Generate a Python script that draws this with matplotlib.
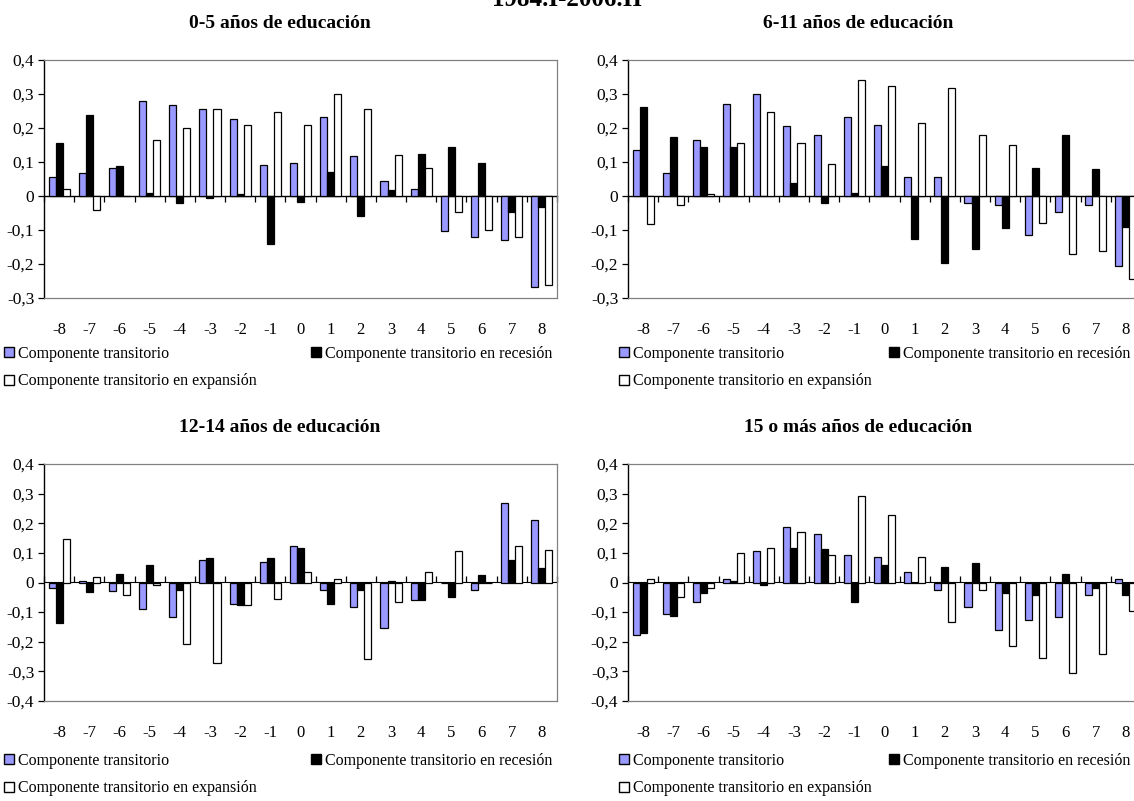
import numpy as np
import matplotlib
matplotlib.use("Agg")
import matplotlib.pyplot as plt
from matplotlib.patches import Patch
from matplotlib.ticker import FuncFormatter

plt.rcParams["font.family"] = ["Liberation Serif", "DejaVu Serif"]

# Quarters relative to the cycle turning point
lags = [-8, -7, -6, -5, -4, -3, -2, -1, 0, 1, 2, 3, 4, 5, 6, 7, 8]

# 0-5 years of schooling
edu0_trans = [0.057, 0.067, 0.081, 0.278, 0.267, 0.257, 0.226, 0.092, 0.097,
              0.231, 0.118, 0.045, 0.020, -0.104, -0.120, -0.130, -0.268]
edu0_rec = [0.155, 0.237, 0.088, 0.010, -0.022, -0.007, 0.005, -0.141, -0.018,
            0.072, -0.059, 0.017, 0.124, 0.145, 0.098, -0.047, -0.032]
edu0_exp = [0.020, -0.042, 0.0, 0.165, 0.200, 0.257, 0.210, 0.247, 0.210,
            0.299, 0.257, 0.122, 0.083, -0.047, -0.099, -0.120, -0.263]

# 6-11 years of schooling
edu6_trans = [0.134, 0.068, 0.165, 0.272, 0.299, 0.206, 0.180, 0.231, 0.210,
              0.057, 0.057, -0.022, -0.026, -0.116, -0.047, -0.026, -0.207]
edu6_rec = [0.262, 0.175, 0.145, 0.145, 0.0, 0.037, -0.022, 0.010, 0.088,
            -0.126, -0.198, -0.157, -0.095, 0.083, 0.180, 0.078, -0.090]
edu6_exp = [-0.083, -0.026, 0.005, 0.155, 0.247, 0.155, 0.093, 0.340, 0.324,
            0.216, 0.319, 0.180, 0.149, -0.078, -0.171, -0.161, -0.243]

# 12-14 years of schooling
edu12_trans = [-0.018, 0.005, -0.030, -0.089, -0.118, 0.076, -0.072, 0.070, 0.124,
               -0.025, -0.083, -0.154, -0.060, 0.0, -0.025, 0.270, 0.211]
edu12_rec = [-0.136, -0.031, 0.030, 0.060, -0.025, 0.083, -0.077, 0.083, 0.118,
             -0.072, -0.025, 0.006, -0.060, -0.048, 0.025, 0.077, 0.048]
edu12_exp = [0.147, 0.018, -0.042, -0.008, -0.207, -0.272, -0.077, -0.055, 0.036,
             0.012, -0.259, -0.065, 0.036, 0.105, 0.0, 0.124, 0.111]

# 15 or more years of schooling
edu15_trans = [-0.177, -0.106, -0.065, 0.011, 0.105, 0.188, 0.164, 0.094, 0.087,
               0.036, -0.025, -0.084, -0.160, -0.125, -0.118, -0.042, 0.011]
edu15_rec = [-0.171, -0.113, -0.037, 0.006, -0.007, 0.118, 0.112, -0.066, 0.059,
             0.0, 0.054, 0.065, -0.037, -0.042, 0.030, -0.019, -0.042]
edu15_exp = [0.011, -0.048, -0.018, 0.100, 0.117, 0.170, 0.094, 0.293, 0.228,
             0.087, -0.135, -0.025, -0.213, -0.254, -0.306, -0.241, -0.095]

titles = ["0-5 años de educación", "6-11 años de educación",
          "12-14 años de educación", "15 o más años de educación"]
series_labels = ["Componente transitorio",
                 "Componente transitorio en recesión",
                 "Componente transitorio en expansión"]
main_title = "1984.I-2006.II"

BLUE = "#9999FF"
GRAY = "#808080"
W, H = 1134, 801

fig = plt.figure(figsize=(W / 100, H / 100), dpi=100)


def px_box(x0, y_top, x1, y_bot):
    return [x0 / W, 1 - y_bot / H, (x1 - x0) / W, (y_bot - y_top) / H]


panels = [
    (edu0_trans, edu0_rec, edu0_exp, px_box(44, 60, 557, 298), (-0.3, 0.4), 280, 23),
    (edu6_trans, edu6_rec, edu6_exp, px_box(628, 60, 1141, 298), (-0.3, 0.4), 858, 23),
    (edu12_trans, edu12_rec, edu12_exp, px_box(44, 464, 557, 701), (-0.4, 0.4), 280, 428),
    (edu15_trans, edu15_rec, edu15_exp, px_box(628, 464, 1141, 701), (-0.4, 0.4), 858, 428),
]

legend_rows = [(4, 346, 311), (619, 346, 889), (4, 753, 311), (619, 753, 889)]

x = np.arange(len(lags))
bw = 0.233

for i, (tr, rec, exp_, box, ylim, tx, ty) in enumerate(panels):
    ax = fig.add_axes(box)
    ax.bar(x - bw, tr, bw, color=BLUE, edgecolor="black", linewidth=0.9, zorder=2)
    ax.bar(x, rec, bw, color="black", edgecolor="black", linewidth=0.9, zorder=2)
    ax.bar(x + bw, exp_, bw, color="white", edgecolor="black", linewidth=0.9, zorder=2)

    ax.set_xlim(-0.5, len(lags) - 0.5)
    ax.set_ylim(*ylim)
    ax.set_yticks(np.round(np.arange(ylim[0], ylim[1] + 0.001, 0.1), 1))
    ax.yaxis.set_major_formatter(
        FuncFormatter(lambda v, _: "0" if abs(v) < 1e-9 else f"{v:.1f}".replace(".", ",")))
    ax.set_xticks(x)
    ax.set_xticklabels([str(v) for v in lags])
    ax.tick_params(axis="x", length=0, pad=17, labelsize=12)
    ax.tick_params(axis="y", direction="out", length=4, width=0.9, pad=3,
                   labelsize=12.5, color="black")

    for side in ("top", "right", "bottom"):
        ax.spines[side].set_color(GRAY)
        ax.spines[side].set_linewidth(0.9)
    ax.spines["left"].set_color("black")
    ax.spines["left"].set_linewidth(1.0)

    # category axis drawn at zero with ticks between the groups
    zero_frac = (0 - ylim[0]) / (ylim[1] - ylim[0])
    sec = ax.secondary_xaxis(zero_frac)
    sec.set_xticks(np.arange(-0.5, len(lags), 1.0))
    sec.tick_params(axis="x", direction="out", length=4, width=0.9,
                    labelbottom=False, labeltop=False, color="black")
    sec.spines["bottom"].set_color("black")
    sec.spines["bottom"].set_linewidth(1.0)

    fig.text(tx / W, 1 - ty / H, titles[i], ha="center", va="center",
             fontsize=14, fontweight="bold")

    lx, ly, lx2 = legend_rows[i]
    handles_left = [Patch(facecolor=BLUE, edgecolor="black", linewidth=1.0),
                    Patch(facecolor="white", edgecolor="black", linewidth=1.0)]
    fig.legend(handles_left, [series_labels[0], series_labels[2]],
               loc="upper left", bbox_to_anchor=(lx / W, 1 - ly / H),
               frameon=False, fontsize=11.5, handlelength=0.6, handleheight=0.6,
               handletextpad=0.3, labelspacing=0.72, borderpad=0, borderaxespad=0)
    fig.legend([Patch(facecolor="black", edgecolor="black", linewidth=1.0)],
               [series_labels[1]],
               loc="upper left", bbox_to_anchor=(lx2 / W, 1 - ly / H),
               frameon=False, fontsize=11.5, handlelength=0.6, handleheight=0.6,
               handletextpad=0.3, borderpad=0, borderaxespad=0)

fig.text(567 / W, 1 - 6 / H, main_title, ha="center", va="baseline",
         fontsize=18, fontweight="bold")

fig.savefig("out.png", dpi=100)
